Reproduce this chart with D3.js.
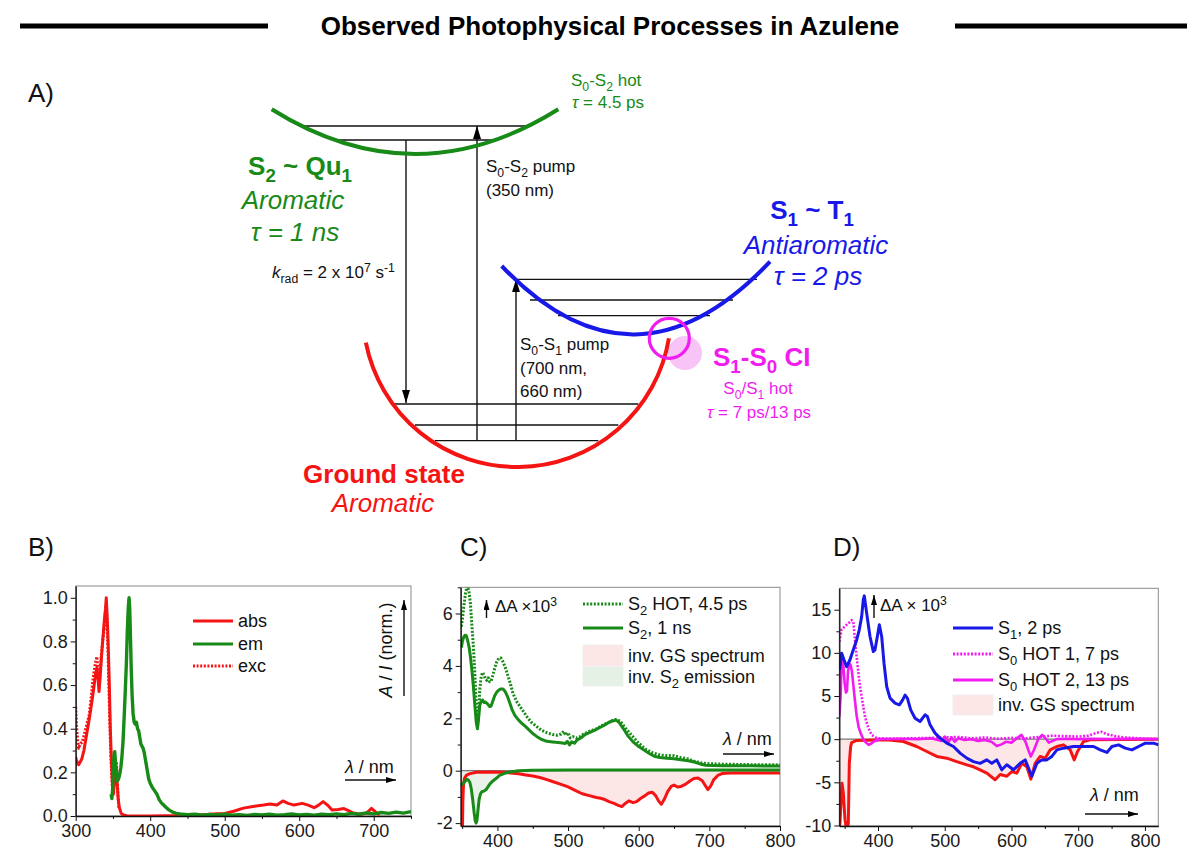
<!DOCTYPE html>
<html>
<head>
<meta charset="utf-8">
<script src="https://cdn.jsdelivr.net/npm/d3@7"></script>
<style>
body { margin: 0; background: #fff; }
svg { display: block; }
text { font-family: "Liberation Sans", Arial, sans-serif; }
</style>
</head>
<body>
<svg id="fig" width="1187" height="863"></svg>
<script>
// ---- panel B: steady state spectra (wavelength nm, normalised) ----
var absB = [[300,0.27],[301,0.255],[304,0.235],[308,0.26],[311,0.30],[315,0.38],[318,0.44],[320,0.485],[322,0.53],[324.4,0.59],[326.7,0.65],[328.5,0.68],[330,0.63],[331.3,0.57],[332.5,0.62],[334,0.70],[336.4,0.81],[338.5,0.90],[340,0.95],[341,1.0],[342,0.93],[343,0.85],[344,0.74],[345,0.62],[346.5,0.40],[348,0.24],[349.5,0.14],[350.7,0.10],[352,0.16],[353.5,0.23],[354.5,0.22],[355.6,0.15],[357,0.08],[358.5,0.04],[361,0.012],[365,0.003],[370,0],[400,0],[440,0.002],[470,0.006],[490,0.01],[500,0.012],[512,0.022],[525,0.036],[540,0.045],[552,0.05],[561,0.055],[570,0.05],[578,0.069],[585,0.058],[593,0.05],[604,0.058],[612,0.05],[620,0.038],[626,0.05],[632,0.066],[638,0.05],[644,0.027],[652,0.03],[660,0.034],[666,0.025],[672,0.014],[682,0.008],[690,0.012],[697,0.035],[702,0.02],[708,0.005]];
var excB = [[300,0.50],[301,0.42],[302.5,0.35],[304,0.31],[306,0.33],[309,0.34],[312,0.38],[315,0.42],[318,0.46],[321,0.55],[323,0.62],[325,0.67],[327,0.71],[328.5,0.73],[330,0.66],[331.2,0.60],[332.5,0.64],[334,0.72],[336,0.80],[338,0.85],[339.5,0.92],[341,0.97],[342,0.90],[343,0.80],[344.5,0.60],[346,0.40],[347.5,0.25],[349,0.14],[350.5,0.12],[352,0.18],[353.5,0.24],[354.5,0.25],[355.8,0.17],[357,0.08],[358,0.03]];
var emB = [[347.5,0.10],[348.5,0.08],[349.5,0.12],[350.5,0.22],[351.5,0.28],[352.4,0.295],[353.5,0.24],[354.5,0.2],[356,0.16],[357.5,0.17],[359,0.19],[360.5,0.22],[362,0.27],[363.5,0.34],[365,0.45],[366.5,0.57],[368,0.70],[369.3,0.85],[370.5,0.95],[371.6,1.0],[372.5,0.95],[373.5,0.82],[374.5,0.68],[375.6,0.56],[377,0.47],[378.5,0.43],[380,0.42],[381.5,0.43],[383,0.40],[384.5,0.39],[386,0.36],[387.5,0.33],[389,0.32],[390.5,0.31],[392,0.29],[394,0.25],[396,0.21],[398,0.17],[400,0.15],[403,0.13],[406,0.115],[409,0.10],[412,0.075],[415,0.06],[418,0.05],[421,0.04],[425,0.028],[430,0.018],[435,0.012],[440,0.009],[450,0.006],[460,0.008],[470,0.004],[480,0.007],[490,0.005],[500,0.008],[510,0.004],[520,0.006],[530,0.003],[540,0.007],[550,0.005],[560,0.008],[570,0.004],[580,0.006],[590,0.009],[600,0.005],[610,0.007],[620,0.004],[630,0.008],[640,0.006],[650,0.01],[660,0.006],[670,0.012],[680,0.008],[690,0.014],[700,0.01],[710,0.016],[720,0.012],[730,0.018],[740,0.013],[750,0.02]];

// ---- panel C: S2 excitation (dA x 1e3) ----
var s2HotC = [[349,5.5],[350.5,5.8],[352.3,6.25],[354.7,6.76],[357,7.05],[359.4,6.9],[361.7,6.4],[364,5.5],[366,4.7],[367.5,4.0],[369,3.1],[370.5,2.2],[372,1.75],[373.5,2.2],[375,3.1],[377,3.6],[379,3.75],[381,3.65],[383,3.5],[385,3.45],[387,3.55],[389,3.4],[391,3.4],[393,3.6],[396,3.9],[399,4.15],[402,4.3],[405,4.3],[408,4.15],[411,3.95],[414,3.7],[418,3.35],[422,2.95],[427,2.65],[432,2.45],[437,2.25],[442,2.05],[448,1.85],[455,1.7],[462,1.55],[470,1.45],[478,1.38],[485,1.35],[490,1.4],[494,1.5],[497,1.35],[500,1.45],[503,1.25],[507,1.3],[512,1.25],[517,1.3],[522,1.4],[530,1.5],[540,1.6],[550,1.75],[558,1.85],[565,1.95],[570,1.95],[575,1.85],[582,1.6],[590,1.35],[600,1.05],[610,0.82],[620,0.68],[630,0.6],[640,0.58],[650,0.57],[660,0.5],[670,0.45],[680,0.35],[690,0.29],[700,0.27],[720,0.25],[740,0.24],[760,0.23],[780,0.23],[800,0.22]];
var s2C = [[349,4.7],[350.5,4.95],[352.3,5.1],[354,5.17],[356,5.15],[358,4.95],[360,4.7],[362,4.3],[364,3.8],[366,3.2],[368,2.5],[370,1.85],[371.7,1.6],[373,1.9],[375,2.5],[377,2.65],[379,2.7],[381,2.6],[383,2.62],[386,2.55],[389,2.45],[391,2.47],[393,2.62],[396,2.85],[399,3.0],[402,3.08],[405,3.12],[408,3.12],[411,3.02],[414,2.85],[418,2.55],[421,2.31],[425,2.1],[430,1.93],[435,1.8],[440,1.68],[445,1.55],[450,1.42],[456,1.3],[462,1.2],[470,1.12],[478,1.1],[486,1.08],[492,1.06],[496,1.04],[499,1.12],[502,0.98],[505,1.1],[509,1.05],[513,1.18],[518,1.25],[524,1.38],[530,1.45],[538,1.55],[545,1.65],[552,1.75],[558,1.85],[563,1.9],[568,1.93],[572,1.85],[578,1.62],[585,1.32],[592,1.1],[600,0.92],[608,0.78],[615,0.66],[622,0.55],[630,0.5],[640,0.48],[650,0.46],[660,0.42],[670,0.38],[680,0.32],[688,0.25],[695,0.21],[705,0.2],[720,0.19],[740,0.19],[760,0.19],[780,0.18],[800,0.18]];
var invEmC = [[348,-0.55],[352,-0.48],[355,-0.38],[357,-0.33],[359,-0.36],[361,-0.45],[363,-0.7],[365,-1.1],[367,-1.6],[368.5,-1.9],[369.8,-2.0],[371,-1.9],[372.5,-1.5],[374,-1.1],[376,-0.88],[378,-0.8],[381,-0.78],[384,-0.72],[387,-0.6],[390,-0.48],[394,-0.38],[398,-0.3],[403,-0.18],[410,-0.1],[418,-0.05],[430,0.0],[450,0.02],[500,0.03],[550,0.03],[600,0.03],[650,0.03],[700,0.03],[750,0.03],[800,0.03]];
var invGsC = [[348,-2.3],[350.5,-2.3],[351,-1.2],[352,-0.5],[353.5,-0.28],[356,-0.18],[360,-0.12],[370,-0.06],[390,-0.05],[410,-0.06],[430,-0.12],[440,-0.16],[450,-0.2],[460,-0.26],[470,-0.34],[480,-0.43],[490,-0.52],[500,-0.62],[510,-0.75],[520,-0.88],[530,-0.95],[540,-1.02],[546,-1.05],[552,-1.1],[558,-1.18],[565,-1.25],[571,-1.32],[576,-1.37],[581,-1.25],[586,-1.15],[592,-1.22],[597,-1.18],[603,-1.05],[609,-0.95],[614,-0.85],[619,-0.82],[624,-0.95],[628,-1.15],[632,-1.28],[636,-1.1],[641,-0.8],[646,-0.6],[650,-0.55],[655,-0.62],[660,-0.6],[666,-0.52],[672,-0.4],[678,-0.3],[684,-0.28],[690,-0.38],[695,-0.6],[698,-0.72],[702,-0.58],[706,-0.35],[712,-0.18],[718,-0.11],[730,-0.09],[760,-0.09],[800,-0.09]];

// ---- panel D: S1 excitation (dA x 1e3) ----
var s1D = [[342,8.0],[343,8.4],[345.5,9.96],[349,9.2],[353,8.4],[358,9.2],[363,10.35],[368,11.5],[372,12.7],[375.5,14.2],[378,16.2],[379.5,16.6],[383,14.6],[388,11.9],[393,10.15],[395.5,10.35],[399,11.9],[402,13.25],[405.5,11.9],[409,8.8],[413,6.1],[418,4.75],[425.5,4.17],[432,3.98],[437,4.56],[440.5,5.1],[444,4.75],[449,3.4],[455.5,2.43],[463,2.05],[470.5,2.82],[474,2.63],[478,1.66],[485.5,0.7],[493,0.12],[503,-0.46],[513,-0.85],[523,-1.62],[533,-2.2],[543,-2.6],[553,-2.8],[563,-2.4],[570.5,-2.8],[578,-2.4],[585.5,-3.55],[593,-2.97],[603,-3.55],[613,-2.8],[620.5,-2.4],[630.5,-4.3],[638,-2.8],[645.5,-2.4],[653,-2.4],[660.5,-2.0],[668,-1.24],[678,-1.04],[693,-0.85],[708,-0.85],[723,-0.85],[733,-1.24],[743,-1.54],[750.5,-0.85],[760.5,-0.66],[770.5,-1.04],[780.5,-1.24],[790.5,-0.85],[800.5,-0.46],[813,-0.46],[820.5,-0.66]];
var hot1D = [[342,11.3],[345.5,12.7],[350.5,13.1],[355.5,13.4],[360.5,13.8],[363,13.6],[365.5,11.5],[369,8.8],[373,6.1],[377,4.2],[380.5,2.6],[385.5,1.3],[390.5,0.5],[398,0.12],[420,0.05],[450,0.1],[480,0.15],[500,0.2],[520,0.25],[540,0.1],[560,0.2],[580,0.05],[600,0.15],[620,0.1],[640,0.25],[660,0.4],[680,0.35],[700,0.3],[715,0.4],[728,0.75],[735,0.85],[742,0.6],[755,0.35],[770,0.2],[790,0.1],[810,0.05],[820,0.05]];
var hot2D = [[342,2.6],[344,5.0],[345.5,9.2],[346.5,9.8],[348,8.6],[350,6.5],[352,5.4],[353.5,5.6],[355,7.8],[357,8.8],[359,8.6],[361,7.8],[363,6.3],[365,4.8],[368,2.7],[371,1.4],[374,0.7],[378,0.0],[382,-0.4],[386,-0.66],[390,-0.5],[395,-0.2],[403,0.0],[430,0.05],[460,0.0],[480,0.1],[495,-0.2],[500,0.3],[505,-0.4],[510,0.2],[515,-0.3],[520,0.1],[530,-0.1],[540,0.0],[550,-0.2],[560,-0.1],[570,-0.3],[578,-0.8],[585,-0.6],[592,-0.3],[600,-0.4],[608,0.1],[615,0.5],[621,-0.3],[625,-1.2],[629,-2.0],[634,-1.2],[640,0.0],[646,0.5],[651,0.1],[656,-0.4],[662,-0.2],[668,0.0],[680,0.05],[700,0.0],[720,0.05],[750,0.0],[780,0.05],[820,0.0]];
var invGsD = [[342,-10.5],[343,-9.7],[346,-5.1],[348,-6.2],[350.5,-9.3],[353,-10.5],[355.5,-9.8],[357,-2.8],[359,-0.85],[360.5,-0.4],[368,-0.15],[413,-0.08],[438,-0.27],[458,-0.85],[473,-1.43],[488,-2.0],[503,-2.2],[518,-2.6],[533,-2.97],[543,-3.2],[553,-3.55],[563,-3.94],[575.5,-4.7],[583,-4.1],[593,-4.3],[600.5,-3.75],[608,-3.94],[615.5,-2.8],[623,-3.2],[629,-4.63],[635.5,-2.8],[643,-2.0],[650.5,-2.2],[658,-1.24],[668,-0.85],[678,-0.66],[688,-1.24],[694,-2.4],[699,-1.43],[708,-0.27],[718,-0.08],[820,0]];

// ticks
var ticksB = { x: [300,400,500,600,700], xm: [350,450,550,650,750], y: [0,0.2,0.4,0.6,0.8,1.0], ym: [0.1,0.3,0.5,0.7,0.9] };
var ticksC = { x: [400,500,600,700,800], xm: [350,450,550,650,750], y: [-2,0,2,4,6], ym: [-1,1,3,5,7] };
var ticksD = { x: [400,500,600,700,800], xm: [350,450,550,650,750], y: [-10,-5,0,5,10,15], ym: [-7.5,-2.5,2.5,7.5,12.5] };

// ---- panel A: energy diagram pieces (pixel layout) ----
var levelsA = [
    [301.7,530,126],[336,496.7,140],          // S2
    [513,757,279.3],[530,733,300],[558,710,315.7], // S1
    [395,638.3,404],[415,618.3,425],[435,598.3,440.7] // S0
];
var arrowsA = [[406,140,403],[477,440.7,126],[516,440.7,279.3]];

var col = { red: "#f51414", green: "#178a17", blue: "#1818e8", mag: "#f01cf0", pink: "#fde6e6", lgreen: "#e6f1e6" };

var svg = d3.select("#fig");
var defs = svg.append("defs");

function marker(id, w, h) {
    defs.append("marker").attr("id", id)
        .attr("markerUnits", "userSpaceOnUse")
        .attr("markerWidth", w).attr("markerHeight", h)
        .attr("refX", w).attr("refY", h / 2)
        .attr("orient", "auto")
        .append("path").attr("d", "M0,0L" + w + "," + (h / 2) + "L0," + h + "z").attr("fill", "#000");
}
marker("bigHead", 13, 8);
marker("smallHead", 10, 6);

// tiny markup: _{sub} ^{sup} *{italic}
function rich(t, str, size) {
    var parts = str.split(/(_\{[^}]*\}|\^\{[^}]*\}|\*\{[^}]*\})/).filter(function(p) { return p.length; });
    var shift = 0;
    parts.forEach(function(p) {
        var ts = t.append("tspan");
        var target = 0, txt = p;
        if (p[0] == "_" && p[1] == "{") { target = size * 0.28; txt = p.slice(2, -1); ts.style("font-size", (size * 0.72) + "px"); }
        else if (p[0] == "^" && p[1] == "{") { target = -size * 0.38; txt = p.slice(2, -1); ts.style("font-size", (size * 0.72) + "px"); }
        else if (p[0] == "*" && p[1] == "{") { txt = p.slice(2, -1); ts.style("font-style", "italic"); }
        if (target != shift) { ts.attr("dy", target - shift); shift = target; }
        ts.text(txt);
    });
    return t;
}

function label(x, y, str, size, opts) {
    opts = opts || {};
    var t = svg.append("text").attr("x", x).attr("y", y)
        .attr("text-anchor", opts.anchor || "start")
        .attr("fill", opts.color || "#111")
        .style("font-size", size + "px");
    if (opts.bold) t.style("font-weight", "bold");
    if (opts.italic) t.style("font-style", "italic");
    return rich(t, str, size);
}

// ---- title ----
svg.append("text").attr("x", 610).attr("y", 35).attr("text-anchor", "middle")
    .style("font-size", "26px").style("font-weight", "bold").attr("fill", "#000")
    .text("Observed Photophysical Processes in Azulene");
svg.append("line").attr("x1", 20).attr("x2", 268).attr("y1", 26).attr("y2", 26).attr("stroke", "#000").attr("stroke-width", 5);
svg.append("line").attr("x1", 955).attr("x2", 1187).attr("y1", 26).attr("y2", 26).attr("stroke", "#000").attr("stroke-width", 5);

// ---- panel A ----
label(28, 102, "A)", 26);

// shaded circle behind the CI
svg.append("circle").attr("cx", 685).attr("cy", 353).attr("r", 17).attr("fill", "#f8c4f8");

levelsA.forEach(function(l) {
    svg.append("line").attr("x1", l[0]).attr("x2", l[1]).attr("y1", l[2]).attr("y2", l[2])
        .attr("stroke", "#111").attr("stroke-width", 1.3);
});
arrowsA.forEach(function(a) {
    svg.append("line").attr("x1", a[0]).attr("x2", a[0]).attr("y1", a[1]).attr("y2", a[2])
        .attr("stroke", "#111").attr("stroke-width", 1.4).attr("marker-end", "url(#bigHead)");
});

// potential wells
var pS2 = d3.path(); pS2.moveTo(271.7, 109.3); pS2.quadraticCurveTo(415, 198.7, 558.3, 109.3);
svg.append("path").attr("d", pS2.toString()).attr("fill", "none").attr("stroke", col.green).attr("stroke-width", 4);
var pS1 = d3.path(); pS1.moveTo(501.7, 266); pS1.quadraticCurveTo(634, 405, 770, 261.7);
svg.append("path").attr("d", pS1.toString()).attr("fill", "none").attr("stroke", col.blue).attr("stroke-width", 4);
var a0 = Math.atan2(342.7 - 313, 366 - 517), a1 = Math.atan2(338.3 - 313, 669.3 - 517);
var pS0 = d3.path(); pS0.arc(517, 313, 154, a0, a1, true);
svg.append("path").attr("d", pS0.toString()).attr("fill", "none").attr("stroke", col.red).attr("stroke-width", 4);
svg.append("circle").attr("cx", 669.3).attr("cy", 338.3).attr("r", 20).attr("fill", "none").attr("stroke", col.mag).attr("stroke-width", 3.2);

// diagram texts
label(300, 175, "S_{2} ~ Qu_{1}", 26, { anchor: "middle", bold: true, color: col.green });
label(293, 209, "Aromatic", 26, { anchor: "middle", italic: true, color: col.green });
label(295, 241, "τ = 1 ns", 26, { anchor: "middle", italic: true, color: col.green });
label(272, 278, "*{k}_{rad} = 2 x 10^{7} s^{-1}", 17);
label(486, 172, "S_{0}-S_{2} pump", 17);
label(486, 196, "(350 nm)", 17);
label(571, 86, "S_{0}-S_{2} hot", 17, { color: col.green });
label(572, 108, "*{τ} = 4.5 ps", 17, { color: col.green });
label(812, 219, "S_{1} ~ T_{1}", 26, { anchor: "middle", bold: true, color: col.blue });
label(816, 254, "Antiaromatic", 26, { anchor: "middle", italic: true, color: col.blue });
label(818, 285, "τ = 2 ps", 26, { anchor: "middle", italic: true, color: col.blue });
label(520, 350, "S_{0}-S_{1} pump", 17);
label(520, 374, "(700 nm,", 17);
label(520, 397, "660 nm)", 17);
label(713, 366, "S_{1}-S_{0} CI", 26, { bold: true, color: col.mag });
label(758, 394, "S_{0}/S_{1} hot", 17, { anchor: "middle", color: col.mag });
label(759, 418, "*{τ} = 7 ps/13 ps", 17, { anchor: "middle", color: col.mag });
label(384, 483, "Ground state", 26, { anchor: "middle", bold: true, color: col.red });
label(383, 512, "Aromatic", 26, { anchor: "middle", italic: true, color: col.red });

// ---- spectra panels ----
function panel(cfg) {
    var x = d3.scaleLinear().domain(cfg.xd).range([cfg.l, cfg.r]);
    var y = d3.scaleLinear().domain(cfg.yd).range([cfg.b, cfg.t]);
    defs.append("clipPath").attr("id", cfg.id).append("rect")
        .attr("x", cfg.l).attr("y", cfg.t).attr("width", cfg.r - cfg.l).attr("height", cfg.b - cfg.t);
    var g = svg.append("g");
    g.append("rect").attr("x", cfg.l).attr("y", cfg.t).attr("width", cfg.r - cfg.l).attr("height", cfg.b - cfg.t)
        .attr("fill", "none").attr("stroke", "#8a8a8a").attr("stroke-width", 1);
    var plot = g.append("g").attr("clip-path", "url(#" + cfg.id + ")");

    g.append("g").attr("transform", "translate(0," + cfg.b + ")")
        .call(d3.axisBottom(x).tickValues(cfg.ticks.x).tickSize(5).tickSizeOuter(0).tickPadding(3).tickFormat(function(d) { return String(d); }));
    g.append("g").attr("transform", "translate(0," + cfg.b + ")")
        .call(d3.axisBottom(x).tickValues(cfg.ticks.xm.filter(function(v) { return v >= cfg.xd[0] && v <= cfg.xd[1]; })).tickSize(3).tickFormat(""))
        .select(".domain").remove();
    g.append("g").attr("transform", "translate(" + cfg.l + ",0)")
        .call(d3.axisLeft(y).tickValues(cfg.ticks.y).tickSize(5).tickSizeOuter(0).tickPadding(3).tickFormat(cfg.fmt));
    g.append("g").attr("transform", "translate(" + cfg.l + ",0)")
        .call(d3.axisLeft(y).tickValues(cfg.ticks.ym).tickSize(3).tickFormat(""))
        .select(".domain").remove();
    g.selectAll(".tick text").style("font-size", "18px").attr("fill", "#1a1a1a")
        .style("font-family", "'Liberation Sans', Arial, sans-serif");
    g.selectAll(".domain").attr("stroke", "#111").attr("stroke-width", 1.3);
    g.selectAll(".tick line").attr("stroke", "#111");

    var line = d3.line().x(function(d) { return x(d[0]); }).y(function(d) { return y(d[1]); });
    var area = d3.area().x(function(d) { return x(d[0]); }).y0(y(0)).y1(function(d) { return y(d[1]); });
    return { x: x, y: y, plot: plot, line: line, area: area, cfg: cfg };
}

function curve(p, data, color, w, dash) {
    var path = p.plot.append("path").datum(data).attr("d", p.line)
        .attr("fill", "none").attr("stroke", color).attr("stroke-width", w)
        .attr("stroke-linejoin", "round");
    if (dash) path.attr("stroke-dasharray", dash);
}
function zeroLine(p) {
    p.plot.append("line").attr("x1", p.cfg.l).attr("x2", p.cfg.r).attr("y1", p.y(0)).attr("y2", p.y(0))
        .attr("stroke", "#777").attr("stroke-width", 1.2);
}
function hArrow(x1, x2, yy) {
    svg.append("line").attr("x1", x1).attr("x2", x2).attr("y1", yy).attr("y2", yy)
        .attr("stroke", "#111").attr("stroke-width", 1.4).attr("marker-end", "url(#smallHead)");
}
function vArrow(xx, y1, y2) {
    svg.append("line").attr("x1", xx).attr("x2", xx).attr("y1", y1).attr("y2", y2)
        .attr("stroke", "#111").attr("stroke-width", 1.4).attr("marker-end", "url(#smallHead)");
}
function legendLine(x1, x2, yy, color, dash, str) {
    var l = svg.append("line").attr("x1", x1).attr("x2", x2).attr("y1", yy).attr("y2", yy)
        .attr("stroke", color).attr("stroke-width", 3.2);
    if (dash) l.attr("stroke-dasharray", dash);
    label(x2 + 5, yy + 6, str, 18);
}
function legendBox(x1, x2, y1, y2, fill, str) {
    svg.append("rect").attr("x", x1).attr("y", y1).attr("width", x2 - x1).attr("height", y2 - y1)
        .attr("fill", fill).attr("stroke", "#eee").attr("stroke-width", 0.8);
    label(x2 + 5, (y1 + y2) / 2 + 6, str, 18);
}

// B
label(28, 556, "B)", 26);
var pB = panel({ id: "clipB", l: 75.7, r: 411, t: 586, b: 816, xd: [300, 750], yd: [0, 1.054], ticks: ticksB, fmt: d3.format(".1f") });
curve(pB, excB, col.red, 3, "2,1.6");
curve(pB, absB, col.red, 3);
curve(pB, emB, col.green, 3.4);
legendLine(193, 233, 621, col.red, null, "abs");
legendLine(193, 233, 644, col.green, null, "em");
legendLine(193, 233, 666, col.red, "2,1.6", "exc");
var yl = svg.append("text").attr("transform", "translate(392,650) rotate(-90)").attr("text-anchor", "middle")
    .style("font-size", "18px").attr("fill", "#111");
rich(yl, "*{A} / *{I} (norm.)", 18);
vArrow(404, 696, 600);
label(345, 773, "*{λ} / nm", 18);
hArrow(345, 396, 780);

// C
label(460, 556, "C)", 26);
var pC = panel({ id: "clipC", l: 460.7, r: 780, t: 587.3, b: 826, xd: [348, 800], yd: [-2.11, 7], ticks: ticksC, fmt: function(d) { return String(d); } });
pC.plot.append("path").datum(invGsC).attr("d", pC.area).attr("fill", col.pink);
pC.plot.append("path").datum(invEmC.filter(function(d) { return d[0] <= 432; })).attr("d", pC.area).attr("fill", col.lgreen).attr("opacity", 0.85);
zeroLine(pC);
curve(pC, invGsC, col.red, 3);
curve(pC, invEmC, col.green, 3);
curve(pC, s2C, col.green, 3);
curve(pC, s2HotC, col.green, 3, "2,1.6");
legendLine(583, 623, 604, col.green, "2,1.6", "S_{2} HOT, 4.5 ps");
legendLine(583, 623, 628, col.green, null, "S_{2}, 1 ns");
legendBox(583, 623, 645, 666, col.pink, "inv. GS spectrum");
legendBox(583, 623, 667, 686, col.lgreen, "inv. S_{2} emission");
vArrow(486.5, 618, 600);
label(495, 612, "ΔA ×10^{3}", 17);
label(723, 745, "*{λ} / nm", 18);
hArrow(723, 774, 754);

// D
label(833, 556, "D)", 26);
var pD = panel({ id: "clipD", l: 839.3, r: 1158.3, t: 588.3, b: 826, xd: [342, 820], yd: [-10.06, 17.48], ticks: ticksD, fmt: function(d) { return String(d); } });
pD.plot.append("path").datum(invGsD).attr("d", pD.area).attr("fill", col.pink);
zeroLine(pD);
curve(pD, invGsD, col.red, 3);
curve(pD, hot2D, col.mag, 2.6);
curve(pD, hot1D, col.mag, 2.6, "2,1.6");
curve(pD, s1D, col.blue, 3);
legendLine(953, 993, 628, col.blue, null, "S_{1}, 2 ps");
legendLine(953, 993, 654, col.mag, "2,1.6", "S_{0} HOT 1, 7 ps");
legendLine(953, 993, 680, col.mag, null, "S_{0} HOT 2, 13 ps");
legendBox(953, 993, 695, 715, col.pink, "inv. GS spectrum");
vArrow(874, 618, 595);
label(880, 611, "ΔA × 10^{3}", 17);
label(1090, 801, "*{λ} / nm", 18);
hArrow(1085, 1138, 814);
</script>
</body>
</html>
